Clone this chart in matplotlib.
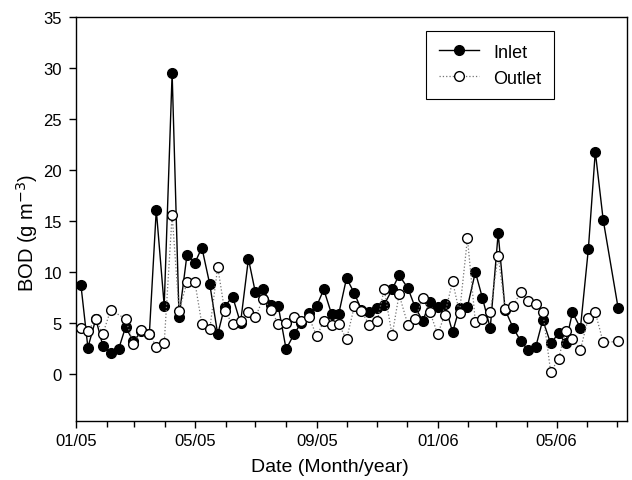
import matplotlib
matplotlib.use('Agg')
from matplotlib import pyplot as plt
import matplotlib.dates as mdates
import numpy as np
import pandas as pd

plt.rcParams['font.family'] = ['Liberation Sans', 'DejaVu Sans']

# sampling dates (weekly-ish)
dates = [
    '2005-01-06', '2005-01-13', '2005-01-21', '2005-01-28', '2005-02-05', '2005-02-13',
    '2005-02-20', '2005-02-28', '2005-03-08', '2005-03-16', '2005-03-23', '2005-03-31',
    '2005-04-08', '2005-04-15', '2005-04-23', '2005-05-01', '2005-05-08', '2005-05-16',
    '2005-05-24', '2005-05-31', '2005-06-08', '2005-06-16', '2005-06-24', '2005-07-01',
    '2005-07-09', '2005-07-17', '2005-07-24', '2005-08-01', '2005-08-09', '2005-08-16',
    '2005-08-24', '2005-09-01', '2005-09-08', '2005-09-16', '2005-09-23', '2005-10-01',
    '2005-10-09', '2005-10-16', '2005-10-24', '2005-11-01', '2005-11-08', '2005-11-16',
    '2005-11-23', '2005-12-02', '2005-12-09', '2005-12-17', '2005-12-24', '2006-01-01',
    '2006-01-08', '2006-01-16', '2006-01-23', '2006-01-31', '2006-02-08', '2006-02-15',
    '2006-02-23', '2006-03-03', '2006-03-10', '2006-03-18', '2006-03-26', '2006-04-02',
    '2006-04-10', '2006-04-17', '2006-04-25', '2006-05-03', '2006-05-10', '2006-05-17',
    '2006-05-25', '2006-06-02', '2006-06-09', '2006-06-17', '2006-07-02',
]

inlet = [
    8.7, 2.6, 5.4, 2.8, 2.1, 2.45, 4.6, 3.2, 4.2, 3.9, 16.1, 6.7,
    29.5, 5.6, 11.7, 10.9, 12.4, 8.8, 3.9, 6.6, 7.6, 5.0, 11.3, 8.0,
    8.3, 6.8, 6.7, 2.45, 3.9, 5.0, 6.0, 6.7, 8.3, 5.85, 5.85, 9.4,
    7.9, 6.3, 6.1, 6.5, 6.8, 8.3, 9.7, 8.4, 6.6, 5.2, 7.1, 6.6,
    6.9, 4.1, 6.5, 6.6, 10.0, 7.5, 4.5, 13.8, 6.3, 4.55, 3.2, 2.4,
    2.7, 5.3, 3.0, 4.0, 3.0, 6.05, 4.5, 12.25, 21.8, 15.1, 6.5,
]

outlet = [
    4.5, 4.2, 5.4, 3.9, 6.3, np.nan, 5.4, 2.9, 4.3, 3.9, 2.7, 3.0,
    15.6, 6.2, 9.0, 9.0, 4.9, 4.4, 10.5, 6.2, 4.9, 5.2, 6.1, 5.6,
    7.4, 6.3, 4.9, 5.0, 5.6, 5.2, 5.6, 3.7, 5.2, 4.8, 4.9, 3.4,
    6.7, 6.15, 4.8, 5.25, 8.3, 3.8, 7.8, 4.8, 5.4, 7.45, 6.1, 3.9,
    5.8, 9.1, 6.0, 13.3, 5.1, 5.4, 6.05, 11.6, 6.4, 6.7, 8.05, 7.2,
    6.85, 6.1, 0.2, 1.5, 4.25, 3.4, 2.4, 5.5, 6.05, 3.1, 3.2,
]

yticks = [0, 5, 10, 15, 20, 25, 30, 35]


def main():
    d = pd.to_datetime(dates)
    inl = np.array(inlet)
    out = np.array(outlet)
    ok = ~np.isnan(out)

    fig = plt.figure(figsize=(6.32, 4.81), dpi=100)
    ax = fig.add_axes([76 / 632, 59 / 481, 551 / 632, 404 / 481])

    ax.plot(d, inl, color='black', lw=1.0, marker='o', ms=7, mfc='black',
            mec='black', label='Inlet', zorder=2)
    ax.plot(d[ok], out[ok], color='0.45', lw=0.9, ls=':', marker='o', ms=7,
            mfc='white', mec='black', mew=1.0, label='Outlet', zorder=3)

    ax.set_xlim(pd.Timestamp('2005-01-01'), pd.Timestamp('2006-07-11'))
    ax.set_ylim(-4.6, 35)
    ax.set_yticks(yticks)

    ax.xaxis.set_major_locator(mdates.MonthLocator(bymonth=[1, 5, 9]))
    ax.xaxis.set_major_formatter(mdates.DateFormatter('%m/%y'))
    ax.xaxis.set_minor_locator(mdates.MonthLocator())

    ax.tick_params(which='both', direction='out', width=1, labelsize=12,
                   top=False, right=False)
    ax.tick_params(which='major', length=5)
    ax.tick_params(which='minor', length=4)
    ax.tick_params(axis='y', pad=5)
    for s in ax.spines.values():
        s.set_linewidth(1.0)

    ax.set_xlabel('Date (Month/year)', fontsize=14)
    ax.set_ylabel('BOD (g m$^{-3}$)', fontsize=14.5)
    ax.xaxis.set_label_coords(0.461, -0.092)
    ax.yaxis.set_label_coords(-0.066, 0.468)

    leg = ax.legend(loc='upper right', bbox_to_anchor=(0.8675, 0.965),
                    borderaxespad=0, fontsize=13, fancybox=False,
                    edgecolor='black', framealpha=1, borderpad=0.7,
                    handlelength=2.2)
    leg.get_frame().set_linewidth(0.8)

    fig.savefig('out.png', dpi=100)


if __name__ == '__main__':
    main()
